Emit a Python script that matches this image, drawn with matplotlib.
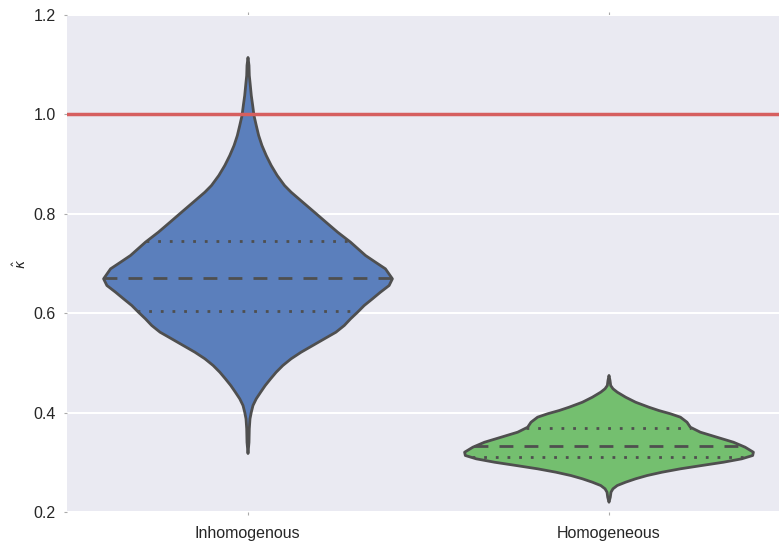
import matplotlib
matplotlib.use("Agg")
import matplotlib.pyplot as plt
import numpy as np

categories = ["Inhomogenous", "Homogeneous"]

# density profiles: value -> relative width (1 = widest)
inhom_values = [1.1155, 1.0994, 1.0793, 1.0658, 1.039, 1.0189, 0.9988, 0.9787, 0.9586,
                0.9384, 0.9183, 0.8982, 0.8781, 0.8579, 0.8445, 0.8243, 0.8042, 0.7841,
                0.7640, 0.7439, 0.7171, 0.7036, 0.6903, 0.6702, 0.6567, 0.6433, 0.6300,
                0.6165, 0.6030, 0.5897, 0.5763, 0.5628, 0.5495, 0.5360, 0.5225, 0.5093,
                0.4958, 0.4823, 0.4690, 0.4555, 0.4421, 0.4288, 0.4153, 0.4018, 0.3885,
                0.3684, 0.3414, 0.3187]
inhom_density = [0.0, 0.0069, 0.009, 0.0138, 0.0228, 0.0324, 0.0414, 0.0572, 0.0738,
                 0.0966, 0.1262, 0.1607, 0.2021, 0.2531, 0.2986, 0.3793, 0.46, 0.54,
                 0.6207, 0.7103, 0.8138, 0.8828, 0.9517, 1.0, 0.9772, 0.9172, 0.8621,
                 0.8048, 0.7586, 0.7103, 0.6669, 0.609, 0.529, 0.4483, 0.3676, 0.2986,
                 0.2414, 0.1952, 0.1566, 0.1193, 0.0876, 0.0572, 0.0345, 0.0228, 0.0138,
                 0.009, 0.0069, 0.0]

hom_values = [0.4757, 0.4656, 0.4555, 0.4489, 0.4421, 0.4320, 0.4219, 0.4119, 0.4052,
              0.3986, 0.3918, 0.3817, 0.3716, 0.3616, 0.3515, 0.3414, 0.3314, 0.3213,
              0.3147, 0.3080, 0.3012, 0.2946, 0.2879, 0.2811, 0.2744, 0.2678, 0.2610,
              0.2543, 0.2477, 0.2409, 0.2308, 0.2207]
hom_density = [0.0, 0.007, 0.0117, 0.0276, 0.0572, 0.1152, 0.1841, 0.2759, 0.3448,
               0.4255, 0.4945, 0.54, 0.5634, 0.6324, 0.7469, 0.8621, 0.9428, 1.0,
               0.995, 0.9193, 0.7931, 0.6434, 0.4945, 0.3676, 0.2641, 0.1841, 0.1152,
               0.0572, 0.0276, 0.0138, 0.009, 0.0]

# quartiles (q1, median, q3)
inhom_quartiles = [0.604, 0.671, 0.745]
hom_quartiles = [0.310, 0.333, 0.370]

reference_value = 1.0

fill_colors = ["#5b7fbc", "#74bf6f"]
line_gray = "#4f4f4f"
half_width = 0.4

plt.rcParams['font.family'] = ['Liberation Sans', 'DejaVu Sans']

fig = plt.figure(figsize=(7.79, 5.44), dpi=100)
ax = fig.add_axes([67 / 779, 32 / 544, 722 / 779, 497 / 544])
ax.set_facecolor("#eaeaf2")
for s in ax.spines.values():
    s.set_visible(False)

profiles = [(inhom_values, inhom_density, inhom_quartiles),
            (hom_values, hom_density, hom_quartiles)]

for i, (vals, dens, quarts) in enumerate(profiles):
    v = np.array(vals)
    d = np.array(dens) * half_width
    poly = ax.fill_betweenx(v, i - d, i + d, facecolor=fill_colors[i],
                            edgecolor=line_gray, linewidth=2, zorder=2)
    poly.set_joinstyle("round")
    order = np.argsort(v)
    for j, q in enumerate(quarts):
        w = np.interp(q, v[order], d[order])
        ls = (0, (5, 4)) if j == 1 else (0, (1, 3.2))
        ax.plot([i - w, i + w], [q, q], color=line_gray, lw=2,
                linestyle=ls, zorder=3, dash_capstyle="butt")

ax.axhline(reference_value, color="#d65f5f", lw=2.5, zorder=4)

ax.set_xlim(-0.5, 1.5)
ax.set_ylim(0.2, 1.2)
yt = np.arange(0.2, 1.21, 0.2)
ax.set_yticks(yt)
ax.set_yticklabels([f"{t:.1f}" for t in yt])
ax.set_xticks(range(len(categories)))
ax.set_xticklabels(categories)
ax.grid(axis="y", color="white", lw=1.5, zorder=0)
ax.set_axisbelow(True)
ax.tick_params(axis="both", labelsize=11.5, labelcolor="#262626",
               color="#aaaaaa", length=2, width=0.8, direction="out")
ax.tick_params(axis="x", pad=8, top=True)
ax.tick_params(axis="y", pad=6)
ax.set_ylabel(r"$\hat{\kappa}$", fontsize=10, color="#262626", labelpad=3)

fig.savefig("out.png", dpi=100)
